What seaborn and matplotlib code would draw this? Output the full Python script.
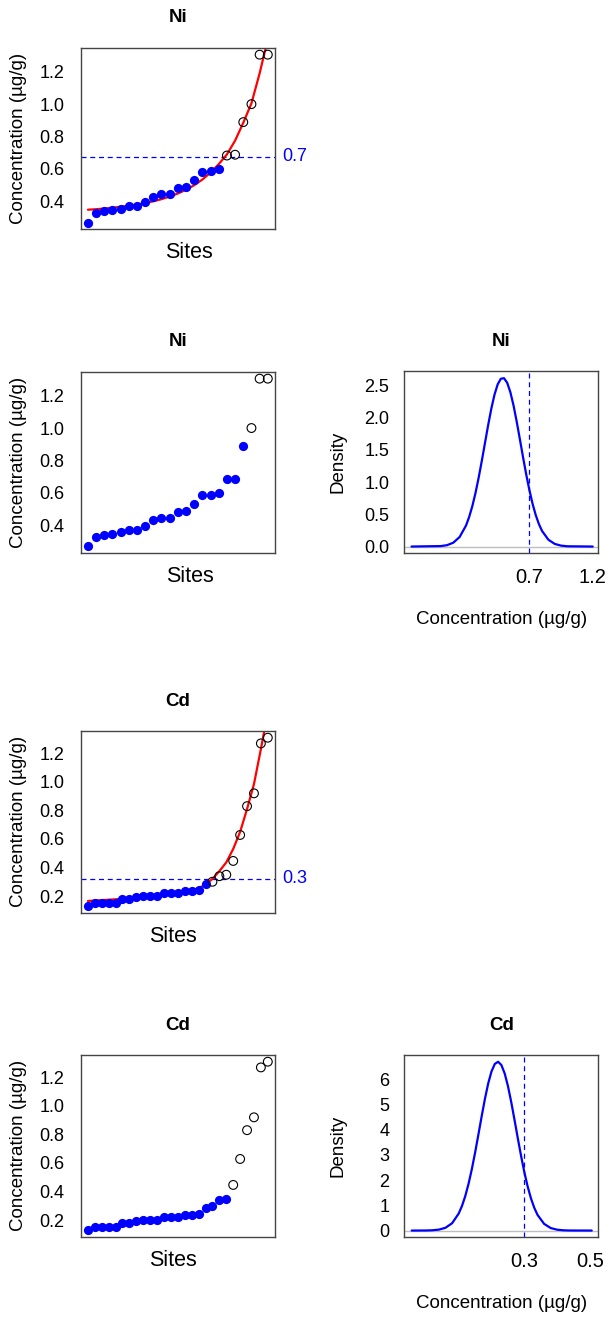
import matplotlib
matplotlib.use("Agg")
import matplotlib.pyplot as plt
import seaborn as sns
import numpy as np

# concentrations sorted by site (ug/g)
ni_conc = [0.27, 0.33, 0.34, 0.345, 0.355, 0.369, 0.369, 0.398, 0.43, 0.447, 0.447,
           0.481, 0.488, 0.53, 0.584, 0.588, 0.60, 0.683, 0.688, 0.889, 1.00, 1.305, 1.305]
ni_fit = [0.349, 0.352, 0.356, 0.361, 0.367, 0.373, 0.381, 0.390, 0.401, 0.414, 0.430,
          0.449, 0.472, 0.500, 0.535, 0.578, 0.630, 0.690, 0.775, 0.885, 1.005, 1.19, 1.40]
cd_conc = [0.128, 0.151, 0.151, 0.151, 0.149, 0.179, 0.181, 0.195, 0.200, 0.200, 0.200,
           0.219, 0.219, 0.219, 0.233, 0.233, 0.240, 0.282, 0.300, 0.339, 0.349,
           0.446, 0.628, 0.830, 0.920, 1.270, 1.310]
cd_fit = [0.165, 0.168, 0.171, 0.174, 0.177, 0.181, 0.185, 0.188, 0.192, 0.196, 0.200,
          0.205, 0.211, 0.218, 0.227, 0.238, 0.255, 0.280, 0.320, 0.374, 0.436,
          0.530, 0.650, 0.810, 0.985, 1.230, 1.490]

ni_limit = 0.677
cd_limit = 0.321
ni_limit_label = "0.7"
cd_limit_label = "0.3"

# how many of the lowest sites are drawn filled in each panel
ni_fit_blue = 17
ni_dens_blue = 20
cd_fit_blue = 18
cd_dens_blue = 21

# density curves
ni_dens_x = [-0.23, 0.0, 0.05, 0.10, 0.15, 0.20, 0.225, 0.25, 0.275, 0.30, 0.325, 0.35, 0.375,
             0.40, 0.425, 0.45, 0.475, 0.50, 0.525, 0.55, 0.575, 0.60, 0.625, 0.65, 0.675,
             0.70, 0.725, 0.75, 0.775, 0.80, 0.85, 0.90, 0.95, 1.00, 1.20]
ni_dens_y = [0.0, 0.007, 0.021, 0.060, 0.149, 0.326, 0.460, 0.628, 0.833, 1.071, 1.334, 1.611, 1.887,
             2.143, 2.359, 2.518, 2.605, 2.613, 2.542, 2.396, 2.190, 1.940, 1.667, 1.388, 1.121,
             0.878, 0.666, 0.490, 0.350, 0.242, 0.106, 0.041, 0.014, 0.004, 0.0]
cd_dens_x = [-0.043, 0.0, 0.02, 0.04, 0.06, 0.08, 0.10, 0.11, 0.12, 0.13, 0.14, 0.15, 0.16, 0.17,
             0.18, 0.19, 0.20, 0.21, 0.22, 0.23, 0.24, 0.25, 0.26, 0.27, 0.28, 0.29, 0.30,
             0.31, 0.32, 0.33, 0.34, 0.36, 0.38, 0.40, 0.42, 0.44, 0.505]
cd_dens_y = [0.0, 0.003, 0.011, 0.037, 0.111, 0.291, 0.673, 0.973, 1.365, 1.852, 2.433, 3.093, 3.808,
             4.536, 5.233, 5.845, 6.318, 6.613, 6.700, 6.570, 6.237, 5.733, 5.099, 4.392, 3.662,
             2.957, 2.310, 1.747, 1.279, 0.907, 0.622, 0.266, 0.100, 0.033, 0.009, 0.002, 0.0]
ni_dens_ticks = [0.7, 1.2]
cd_dens_ticks = [0.3, 0.5]
ni_dens_cut = 0.7
cd_dens_cut = 0.3
ni_yticks = [0.4, 0.6, 0.8, 1.0, 1.2]
cd_yticks = [0.2, 0.4, 0.6, 0.8, 1.0, 1.2]
ni_dens_yticks = [0.0, 0.5, 1.0, 1.5, 2.0, 2.5]
cd_dens_yticks = [0, 1, 2, 3, 4, 5, 6]

sns.set_style("white")
plt.rcParams["font.family"] = ["Liberation Sans", "DejaVu Sans"]
plt.rcParams["text.color"] = "black"
plt.rcParams["axes.labelcolor"] = "black"

W, H = 611, 1317
fig = plt.figure(figsize=(W / 100, H / 100), dpi=100)
FRAME = "#444444"
YLAB = "Concentration (\u00b5g/g)"


def add_ax(l, t, r, b):
    ax = fig.add_axes([l / W, 1 - b / H, (r - l) / W, (b - t) / H])
    for s in ax.spines.values():
        s.set_visible(True)
        s.set_color(FRAME)
        s.set_linewidth(1.0)
    return ax


def put_title(ax, box, title, title_y):
    l, t, r, b = box
    ax.set_title(title, fontsize=13.5, fontweight="bold", pad=0,
                 y=1 + (t - title_y) / (b - t), va="center", color="black")


def site_panel(box, conc, n_blue, title, title_y, ylim, yticks, sites_x, fit=None, limit=None,
               limit_label=None):
    ax = add_ax(*box)
    n = len(conc)
    sites = np.arange(1, n + 1)
    if fit is not None:
        sns.lineplot(x=sites, y=fit, color="red", linewidth=1.6, ax=ax, zorder=2)
    sns.scatterplot(x=sites[:n_blue], y=conc[:n_blue], color="blue", s=44, linewidth=0,
                    ax=ax, zorder=3)
    sns.scatterplot(x=sites[n_blue:], y=conc[n_blue:], facecolor="none", edgecolor="black",
                    s=40, linewidth=0.8, ax=ax, zorder=3)
    if limit is not None:
        ax.axhline(limit, color="blue", linewidth=0.9, linestyle=(0, (4, 3)), zorder=1)
        ax.text(1.036, limit, limit_label, color="blue", fontsize=13, ha="left", va="center",
                transform=ax.get_yaxis_transform())
    ax.set_xlim(1 - 0.04 * (n - 1), n + 0.04 * (n - 1))
    ax.set_ylim(*ylim)
    ax.set_xticks([])
    ax.set_yticks(yticks)
    ax.set_yticklabels([f"{v:.1f}" for v in yticks])
    ax.tick_params(axis="y", length=5.2, width=0.8, color=FRAME, pad=6.5, labelsize=13,
                   labelcolor="black")
    put_title(ax, box, title, title_y)
    l, t, r, b = box
    ax.set_ylabel(YLAB, fontsize=13.5)
    ax.yaxis.set_label_coords(-(l - 19) / (r - l), 0.5)
    ax.yaxis.label.set_va("center")
    ax.set_xlabel("Sites", fontsize=15.5)
    ax.xaxis.set_label_coords((sites_x - l) / (r - l), -23.5 / (b - t))
    ax.xaxis.label.set_va("center")
    return ax


def density_panel(box, dx, dy, title, title_y, xlim, ylim, xticks, yticks, cut, ylabfmt):
    ax = add_ax(*box)
    ax.axhline(0, color="#BEBEBE", linewidth=1.0, zorder=1)
    sns.lineplot(x=dx, y=dy, color="blue", linewidth=1.6, ax=ax, zorder=3)
    ax.axvline(cut, color="blue", linewidth=0.9, linestyle=(0, (4, 3)), zorder=2)
    ax.set_xlim(*xlim)
    ax.set_ylim(*ylim)
    ax.set_xticks(xticks)
    ax.set_xticklabels([f"{v:.1f}" for v in xticks])
    ax.set_yticks(yticks)
    ax.set_yticklabels([ylabfmt.format(v) for v in yticks])
    ax.tick_params(axis="both", length=5.0, width=0.8, color=FRAME, pad=5.8, labelsize=13,
                   labelcolor="black")
    ax.tick_params(axis="x", labelsize=14.5, pad=5.5)
    put_title(ax, box, title, title_y)
    l, t, r, b = box
    ax.set_ylabel("Density", fontsize=13.5)
    ax.yaxis.set_label_coords(-(l - 338) / (r - l), 0.5)
    ax.yaxis.label.set_va("center")
    ax.set_xlabel(YLAB, fontsize=13.5)
    ax.xaxis.set_label_coords(0.5, -66 / (b - t))
    ax.xaxis.label.set_va("center")
    return ax


# Ni with fitted curve
site_panel((80.7, 47.7, 275, 229), ni_conc, ni_fit_blue, "Ni", 18, (0.23, 1.348), ni_yticks, 188.7,
           fit=ni_fit, limit=ni_limit, limit_label=ni_limit_label)
# Ni against density threshold
site_panel((80.7, 371.7, 275, 552.7), ni_conc, ni_dens_blue, "Ni", 342, (0.23, 1.348), ni_yticks, 189.5)
density_panel((404.3, 371, 598.3, 553.3), ni_dens_x, ni_dens_y, "Ni", 342, (-0.287, 1.244),
              (-0.105, 2.725), ni_dens_ticks, ni_dens_yticks, ni_dens_cut, "{:.1f}")
# Cd with fitted curve
site_panel((80.7, 731, 275, 912.7), cd_conc, cd_fit_blue, "Cd", 701, (0.083, 1.357), cd_yticks, 172.8,
           fit=cd_fit, limit=cd_limit, limit_label=cd_limit_label)
# Cd against density threshold
site_panel((80.7, 1055, 275, 1236.7), cd_conc, cd_dens_blue, "Cd", 1025, (0.083, 1.357), cd_yticks, 172.8)
density_panel((404.3, 1055, 598.3, 1237.3), cd_dens_x, cd_dens_y, "Cd", 1025, (-0.0655, 0.525),
              (-0.268, 6.968), cd_dens_ticks, cd_dens_yticks, cd_dens_cut, "{:d}")

fig.savefig("out.png", dpi=100)
